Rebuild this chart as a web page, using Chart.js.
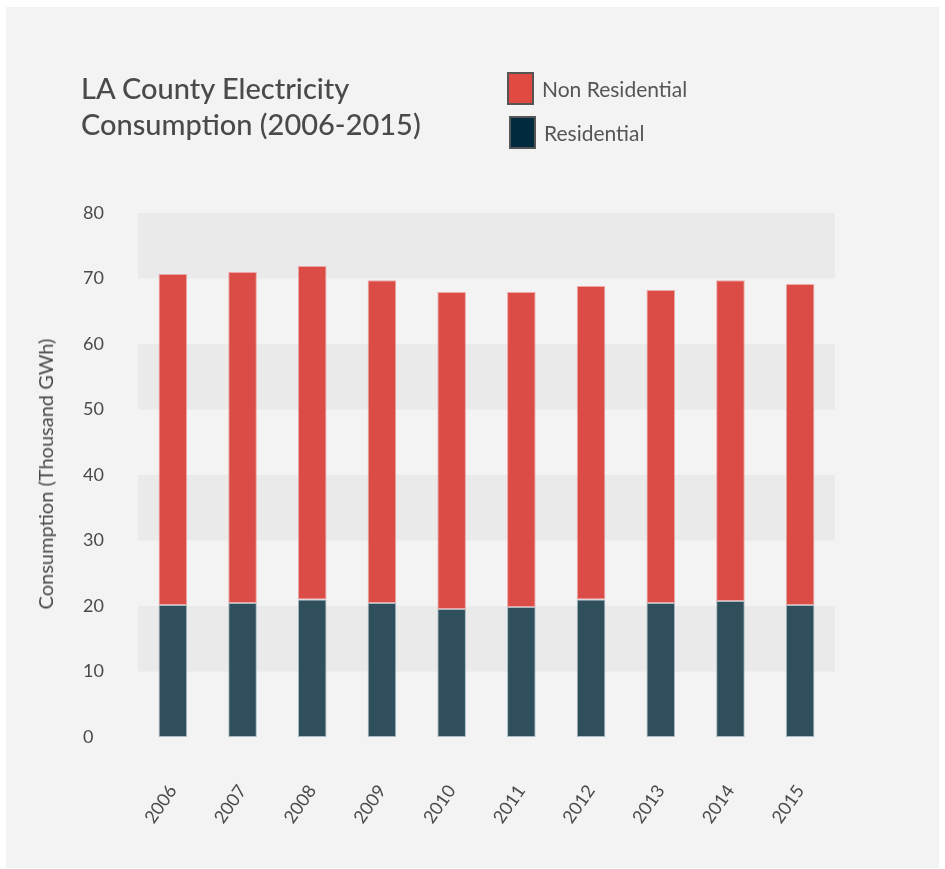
<!DOCTYPE html>
<html>
<head>
<meta charset="utf-8">
<script src="https://cdn.jsdelivr.net/npm/chart.js@4/dist/chart.umd.min.js"></script>
<style>
  body { margin: 0; background: #ffffff; font-family: Lato, "Open Sans", sans-serif; }
  #wrap { position: relative; width: 945px; height: 869px; }
  #panel { position: absolute; left: 6px; top: 7px; width: 933px; height: 861px; background: #f3f3f3; }
  #chart { position: absolute; left: 0; top: 0; }
  #title { position: absolute; left: 81px; top: 70px; font-size: 29px; line-height: 36px; font-weight: 500; color: #4a4a4a; }
  .leg { position: absolute; font-size: 21px; color: #555; display: flex; align-items: center; }
  .sw { width: 23px; height: 29px; border: 2px solid #555; margin-right: 8px; }
  #ytitle { position: absolute; left: 45px; top: 474px; transform: translate(-50%, -50%) rotate(-90deg);
            white-space: nowrap; font-size: 20px; color: #4a4a4a; }
</style>
</head>
<body>
<div id="wrap">
  <div id="panel"></div>
  <canvas id="chart" width="945" height="869"></canvas>
  <div id="title">LA County Electricity<br>Consumption (2006-2015)</div>
  <div class="leg" style="left:507px; top:72px;"><div class="sw" style="background:#e04a40"></div>Non Residential</div>
  <div class="leg" style="left:509px; top:116px;"><div class="sw" style="background:#022a3e"></div>Residential</div>
  <div id="ytitle">Consumption (Thousand GWh)</div>
</div>
<script>
// Chart data (thousand GWh)
const years = ["2006", "2007", "2008", "2009", "2010", "2011", "2012", "2013", "2014", "2015"];
const residential = [20.15, 20.45, 21.0, 20.45, 19.55, 19.85, 21.0, 20.45, 20.75, 20.15];
const nonResidential = [50.55, 50.55, 50.9, 49.3, 48.4, 48.1, 47.85, 47.8, 49.0, 49.0];
const yTicks = [0, 10, 20, 30, 40, 50, 60, 70, 80];

// shaded bands behind the bars (70-80, 50-60, 30-40, 10-20)
const bands = [[70, 80], [50, 60], [30, 40], [10, 20]];

const bandPlugin = {
  id: "bands",
  beforeDatasetsDraw(chart) {
    const { ctx, chartArea, scales } = chart;
    ctx.save();
    ctx.fillStyle = "#eaeaea";
    bands.forEach(b => {
      const y1 = scales.y.getPixelForValue(b[1]);
      const y0 = scales.y.getPixelForValue(b[0]);
      ctx.fillRect(chartArea.left, y1, chartArea.right - chartArea.left, y0 - y1);
    });
    ctx.restore();
  }
};

const tickFont = { family: "Lato, 'Open Sans', sans-serif", size: 18 };

new Chart(document.getElementById("chart"), {
  type: "bar",
  data: {
    labels: years,
    datasets: [
      { label: "Residential", data: residential, backgroundColor: "#2f4f5c",
        borderColor: "rgba(120,150,165,0.6)", borderWidth: 1, borderSkipped: false },
      { label: "Non Residential", data: nonResidential, backgroundColor: "#db4c47",
        borderColor: "rgba(235,150,145,0.8)", borderWidth: 1, borderSkipped: false }
    ]
  },
  options: {
    responsive: false,
    devicePixelRatio: 1,
    animation: false,
    layout: { padding: { left: 83, right: 110, top: 213, bottom: 0 } },
    datasets: { bar: { categoryPercentage: 1, barPercentage: 0.41 } },
    plugins: { legend: { display: false }, tooltip: { enabled: false } },
    scales: {
      x: {
        stacked: true,
        grid: { display: false, drawTicks: false },
        border: { display: false },
        ticks: { color: "#4a4a4a", font: tickFont, minRotation: 55, maxRotation: 55, padding: 44 },
        afterFit(scale) { scale.height = 132; }
      },
      y: {
        stacked: true,
        min: 0, max: 80,
        grid: { display: false, drawTicks: false },
        border: { display: false },
        afterBuildTicks(scale) { scale.ticks = yTicks.map(v => ({ value: v })); },
        ticks: { color: "#4a4a4a", font: tickFont, crossAlign: "far" },
        afterFit(scale) { scale.width = 55; }
      }
    }
  },
  plugins: [bandPlugin]
});
</script>
</body>
</html>
